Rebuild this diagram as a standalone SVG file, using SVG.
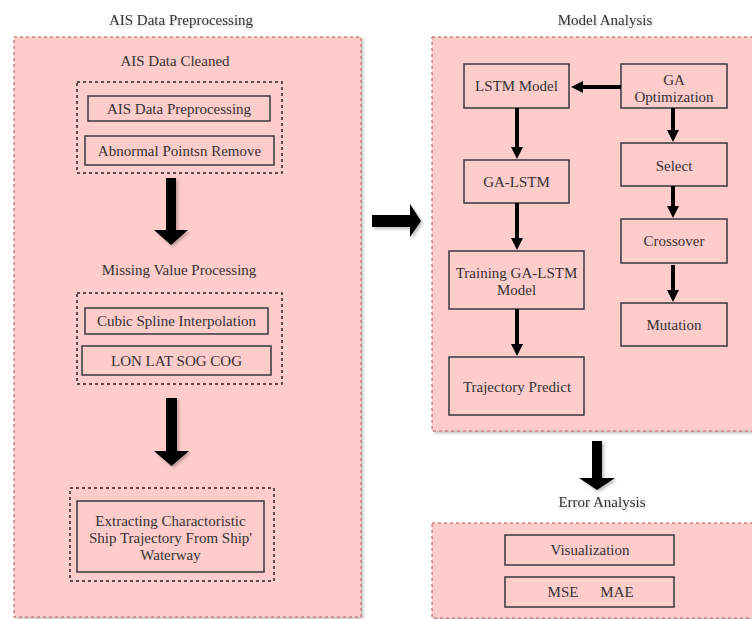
<svg xmlns="http://www.w3.org/2000/svg" width="752" height="619" viewBox="0 0 752 619">
<style>
text{font-family:'Liberation Serif','Times New Roman','DejaVu Serif',serif;font-size:15px;fill:#333;text-anchor:middle}
.panel{fill:#ffcccc;stroke:#b85450;stroke-width:1;stroke-dasharray:3 3}
.grp{fill:none;stroke:#222;stroke-width:1.5;stroke-dasharray:3 3}
.box{fill:#ffcccc;stroke:#36393d;stroke-width:1.5}
.conn{stroke:#000;stroke-width:4;fill:none;marker-end:url(#ah)}
.block{fill:#000}
.title{filter:url(#ts)}
</style>
<defs>
<marker id="ah" viewBox="0 0 12 12" refX="1" refY="6" markerWidth="12" markerHeight="12" markerUnits="userSpaceOnUse" orient="auto">
<path d="M0,0 L12,6 L0,12 z" fill="#000"/>
</marker>
<filter id="sh" x="-5%" y="-5%" width="110%" height="110%">
<feDropShadow dx="2" dy="2" stdDeviation="1.5" flood-color="#000" flood-opacity="0.25"/>
</filter>
<filter id="ts" x="-10%" y="-30%" width="120%" height="160%">
<feDropShadow dx="1" dy="2" stdDeviation="1.2" flood-color="#000" flood-opacity="0.2"/>
</filter>
</defs>
<rect width="752" height="619" fill="#fff"/>

<g id="panel-left">
<rect class="panel" x="14" y="37" width="347" height="580" filter="url(#sh)"/>
<text class="title" x="181" y="25">AIS Data Preprocessing</text>
<text x="175" y="66">AIS Data Cleaned</text>
<text x="179" y="275">Missing Value Processing</text>
</g>
<g id="panel-model">
<rect class="panel" x="432" y="37" width="330" height="394" filter="url(#sh)"/>
<text class="title" x="605" y="25">Model Analysis</text>
</g>
<g id="panel-error">
<rect class="panel" x="432" y="523" width="330" height="95" filter="url(#sh)"/>
<text class="title" x="602" y="507">Error Analysis</text>
</g>

<g id="group-cleaned"><rect class="grp" x="77" y="82" width="205" height="91"/></g>
<g id="n-ais"><rect class="box" x="88" y="96" width="182" height="25"/><text x="179" y="113.5">AIS Data Preprocessing</text></g>
<g id="n-abnormal"><rect class="box" x="85" y="136" width="189" height="29"/><text x="179.5" y="155.5">Abnormal Pointsn Remove</text></g>

<g id="group-missing"><rect class="grp" x="77" y="293" width="205" height="91"/></g>
<g id="n-cubic"><rect class="box" x="85" y="308" width="183" height="26"/><text x="176.5" y="326">Cubic Spline Interpolation</text></g>
<g id="n-lonlat"><rect class="box" x="82" y="346" width="189" height="29"/><text x="176.5" y="365.5">LON LAT SOG COG</text></g>

<g id="group-extract"><rect class="grp" x="70" y="488" width="204" height="93"/></g>
<g id="n-extract"><rect class="box" x="77" y="501" width="187" height="71"/>
<text x="170.5" y="526">Extracting Charactoristic</text>
<text x="170.5" y="543">Ship Trajectory From Ship'</text>
<text x="170.5" y="560">Waterway</text></g>

<g id="n-lstm"><rect class="box" x="464" y="64" width="105" height="44"/><text x="516.5" y="91">LSTM Model</text></g>
<g id="n-ga"><rect class="box" x="621" y="64" width="106" height="44"/><text x="674" y="85">GA</text><text x="674" y="102">Optimization</text></g>
<g id="n-galstm"><rect class="box" x="464" y="160" width="105" height="43"/><text x="516.5" y="187">GA-LSTM</text></g>
<g id="n-training"><rect class="box" x="449" y="251" width="135" height="58"/><text x="516.5" y="278">Training GA-LSTM</text><text x="516.5" y="295">Model</text></g>
<g id="n-traj"><rect class="box" x="449" y="357" width="135" height="58"/><text x="517" y="392">Trajectory Predict</text></g>
<g id="n-select"><rect class="box" x="621" y="143" width="106" height="43"/><text x="674" y="171">Select</text></g>
<g id="n-crossover"><rect class="box" x="621" y="219" width="106" height="44"/><text x="674" y="246">Crossover</text></g>
<g id="n-mutation"><rect class="box" x="621" y="303" width="106" height="43"/><text x="674" y="330">Mutation</text></g>

<g id="n-vis"><rect class="box" x="505" y="535" width="169" height="30"/><text x="590" y="555">Visualization</text></g>
<g id="n-mse"><rect class="box" x="505" y="577" width="169" height="30"/><text x="590" y="597"><tspan x="563">MSE</tspan><tspan x="617">MAE</tspan></text></g>

<g id="connectors">
<path class="conn" d="M621,87 H582"/>
<path class="conn" d="M517,108 V148"/>
<path class="conn" d="M517,203 V239"/>
<path class="conn" d="M517,309 V345"/>
<path class="conn" d="M673,108 V131"/>
<path class="conn" d="M673,186 V207"/>
<path class="conn" d="M673,265 V291"/>
<path class="block" filter="url(#sh)" d="M166,178 H176 V230 H188 L171,245 L154,230 H166 Z"/>
<path class="block" filter="url(#sh)" d="M166,398 H177 V451 H189 L171.5,466 L154,451 H166 Z"/>
<path class="block" filter="url(#sh)" d="M372,215 H410 V204 L421,221 L410,237 V227 H372 Z"/>
<path class="block" filter="url(#sh)" d="M592,441 H602 V478 H615 L597,490 L579,478 H592 Z"/>
</g>
</svg>
